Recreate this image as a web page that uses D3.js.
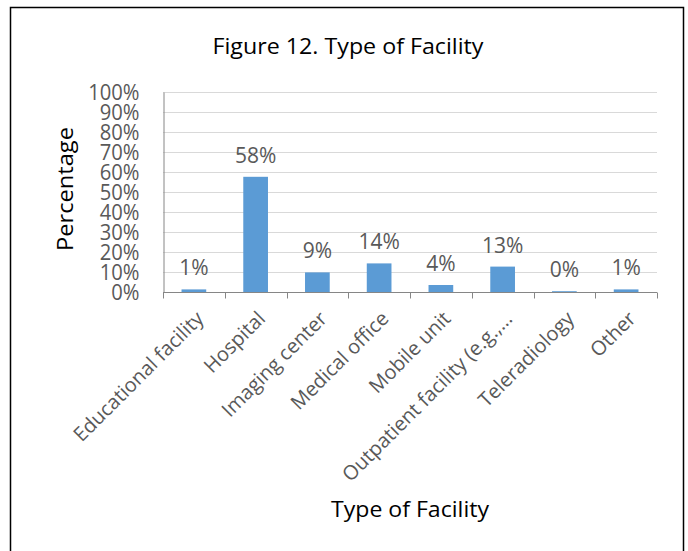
<!DOCTYPE html>
<html>
<head>
<meta charset="utf-8">
<script src="https://cdn.jsdelivr.net/npm/d3@7"></script>
<style>
  html, body { margin: 0; padding: 0; background: #fff; }
  svg { display: block; }
  text { font-family: "Open Sans", "Noto Sans", sans-serif; }
</style>
</head>
<body>
<svg id="chart" width="688" height="551"></svg>
<script>
const categories = ["Educational facility", "Hospital", "Imaging center", "Medical office", "Mobile unit", "Outpatient facility (e.g.,…", "Teleradiology", "Other"];
const values = [1.3, 57.6, 9.8, 14.3, 3.5, 12.7, 0.4, 1.3];
const valueLabels = ["1%", "58%", "9%", "14%", "4%", "13%", "0%", "1%"];
const yTicks = [0, 10, 20, 30, 40, 50, 60, 70, 80, 90, 100];
const title = "Figure 12. Type of Facility";
const xTitle = "Type of Facility";
const yTitle = "Percentage";

const svg = d3.select("#chart");

// outer border
svg.append("rect").attr("x", 10.5).attr("y", 7.5).attr("width", 673).attr("height", 560)
  .attr("fill", "#fff").attr("stroke", "#000").attr("stroke-width", 1.5);

const x = d3.scaleBand().domain(categories).range([163, 657]).paddingInner(0.6).paddingOuter(0.3);
const y = d3.scaleLinear().domain([0, 100]).range([292, 92]);

// gridlines
svg.append("g").selectAll("line").data(yTicks.filter(d => d > 0)).join("line")
  .attr("x1", 163).attr("x2", 657)
  .attr("y1", d => Math.round(y(d)) + 0.5).attr("y2", d => Math.round(y(d)) + 0.5)
  .attr("stroke", "#d9d9d9").attr("stroke-width", 1);

// bars
svg.append("g").selectAll("rect").data(values).join("rect")
  .attr("x", (d, i) => x(categories[i]))
  .attr("width", x.bandwidth())
  .attr("y", d => y(d))
  .attr("height", d => y(0) - y(d))
  .attr("fill", "#5b9bd5");

// y axis
const yAxis = d3.axisLeft(y).tickValues(yTicks).tickFormat(d => d + "%").tickSize(0).tickPadding(22);
const gy = svg.append("g").attr("transform", "translate(163.5,0)").call(yAxis);
gy.select(".domain").attr("stroke", "#868686");
gy.selectAll("text").attr("fill", "#595959").style("font-size", "22px")
  .attr("dy", "0.36em").attr("transform", "scale(0.92,1)").attr("x", -26);

// x axis
const band = (657 - 163) / categories.length;
const xAxis = d3.axisBottom(x).tickSize(0).tickFormat("");
const gx = svg.append("g").attr("transform", "translate(0,292.5)").call(xAxis);
gx.select(".domain").attr("stroke", "#868686").attr("d", "M163,0H657");
gx.selectAll(".tick").remove();
gx.selectAll("line.sep").data(d3.range(categories.length + 1)).join("line")
  .attr("class", "sep")
  .attr("x1", i => Math.round(163 + i * band) + 0.5).attr("x2", i => Math.round(163 + i * band) + 0.5)
  .attr("y1", 0).attr("y2", 6).attr("stroke", "#868686");

// category labels
svg.append("g").selectAll("text").data(categories).join("text")
  .attr("transform", d => `translate(${x(d) + x.bandwidth() / 2 + 1},${310}) rotate(-45)`)
  .attr("text-anchor", "end")
  .attr("dy", "0.7em")
  .attr("fill", "#595959")
  .style("font-size", "20px")
  .text(d => d);

// data labels
svg.append("g").selectAll("text").data(values).join("text")
  .attr("x", (d, i) => x(categories[i]) + x.bandwidth() / 2)
  .attr("y", d => y(d) - 14)
  .attr("text-anchor", "middle")
  .attr("fill", "#595959")
  .style("font-size", "21px")
  .text((d, i) => valueLabels[i]);

// title
svg.append("text").attr("x", 348).attr("y", 54).attr("text-anchor", "middle")
  .attr("fill", "#000").style("font-size", "22px")
  .attr("textLength", 271).attr("lengthAdjust", "spacingAndGlyphs")
  .text(title);

// x title
svg.append("text").attr("x", 410).attr("y", 517).attr("text-anchor", "middle")
  .attr("fill", "#000").style("font-size", "22px")
  .attr("textLength", 158).attr("lengthAdjust", "spacingAndGlyphs")
  .text(xTitle);

// y title
svg.append("text").attr("transform", "translate(73,189) rotate(-90)").attr("text-anchor", "middle")
  .attr("fill", "#000").style("font-size", "22px")
  .attr("textLength", 124).attr("lengthAdjust", "spacingAndGlyphs")
  .text(yTitle);
</script>
</body>
</html>
